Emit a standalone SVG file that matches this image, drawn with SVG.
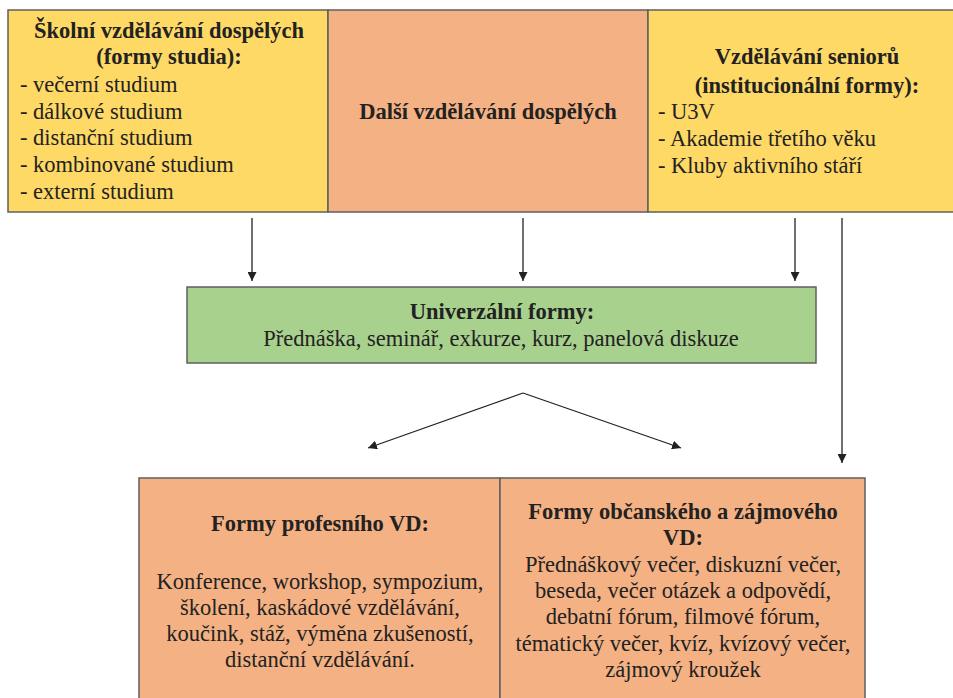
<svg xmlns="http://www.w3.org/2000/svg" width="953" height="698" viewBox="0 0 953 698">
<defs>
<marker id="ah" viewBox="0 0 10 10" refX="10" refY="5" markerWidth="9" markerHeight="9" markerUnits="userSpaceOnUse" orient="auto">
<path d="M0,0 L10,5 L0,10 z" fill="#222"/>
</marker>
<style>
text{font-family:'Liberation Serif','Times New Roman',serif;font-size:22.5px;fill:#222;}
.b{font-weight:bold;}
.c{text-anchor:middle;}
.box{stroke:#5f5f5f;stroke-width:1.5;}
.yel{fill:#FFD966;}
.org{fill:#F4B183;}
.grn{fill:#A9D18E;}
.con{stroke:#222;stroke-width:1.3;fill:none;marker-end:url(#ah);}
</style>
</defs>
<rect width="953" height="698" fill="#ffffff"/>

<g id="node-skolni">
<rect class="box yel" x="8" y="10" width="320" height="202"/>
<text class="b c" x="169" y="38">Školní vzdělávání dospělých</text>
<text class="b c" x="169" y="64">(formy studia):</text>
<text x="20" y="92">- večerní studium</text>
<text x="20" y="119">- dálkové studium</text>
<text x="20" y="145">- distanční studium</text>
<text x="20" y="172">- kombinované studium</text>
<text x="20" y="199">- externí studium</text>
</g>

<g id="node-dalsi">
<rect class="box org" x="328" y="10" width="320" height="202"/>
<text class="b c" x="488" y="119">Další vzdělávání dospělých</text>
</g>

<g id="node-seniori">
<rect class="box yel" x="648" y="10" width="320" height="202"/>
<text class="b c" x="807" y="64">Vzdělávání seniorů</text>
<text class="b c" x="807" y="93">(institucionální formy):</text>
<text x="658" y="119">- U3V</text>
<text x="658" y="146">- Akademie třetího věku</text>
<text x="658" y="173">- Kluby aktivního stáří</text>
</g>

<g id="node-univerzalni">
<rect class="box grn" x="187" y="287" width="629" height="76"/>
<text class="b c" x="502" y="319">Univerzální formy:</text>
<text class="c" x="501" y="346">Přednáška, seminář, exkurze, kurz, panelová diskuze</text>
</g>

<g id="node-profesni">
<rect class="box org" x="139" y="478" width="361" height="230"/>
<text class="b c" x="320" y="531">Formy profesního VD:</text>
<text class="c" x="320" y="589">Konference, workshop, sympozium,</text>
<text class="c" x="320" y="615">školení, kaskádové vzdělávání,</text>
<text class="c" x="320" y="641">koučink, stáž, výměna zkušeností,</text>
<text class="c" x="320" y="667">distanční vzdělávání.</text>
</g>

<g id="node-obcanske">
<rect class="box org" x="500" y="478" width="365" height="230"/>
<text class="b c" x="683" y="519">Formy občanského a zájmového</text>
<text class="b c" x="683" y="545">VD:</text>
<text class="c" x="683" y="572">Přednáškový večer, diskuzní večer,</text>
<text class="c" x="683" y="598">beseda, večer otázek a odpovědí,</text>
<text class="c" x="683" y="624">debatní fórum, filmové fórum,</text>
<text class="c" x="683" y="651">tématický večer, kvíz, kvízový večer,</text>
<text class="c" x="683" y="677">zájmový kroužek</text>
</g>

<g id="connectors">
<line class="con" x1="252" y1="218" x2="252" y2="281"/>
<line class="con" x1="523" y1="218" x2="523" y2="281"/>
<line class="con" x1="795" y1="218" x2="795" y2="281"/>
<line class="con" x1="842" y1="218" x2="842" y2="463"/>
<polyline class="con" points="523,393 368,448"/>
<polyline class="con" points="523,393 681,448"/>
</g>
</svg>
